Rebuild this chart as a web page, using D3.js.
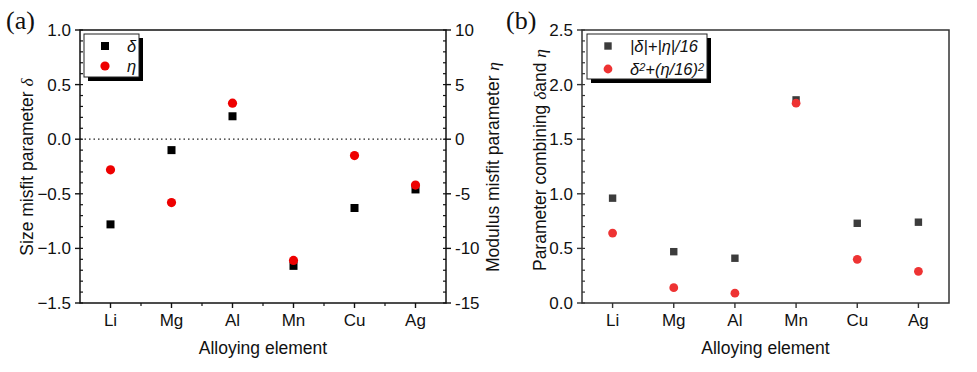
<!DOCTYPE html>
<html lang="en">
<head>
  <meta charset="UTF-8">
  <title>Misfit parameters</title>
  <script src="https://cdn.jsdelivr.net/npm/d3@7"></script>
  <style>
    body { margin: 0; background: #fff; }
    text { font-family: "Liberation Sans", Arial, sans-serif; fill: #111; }
  </style>
</head>
<body>
<div id="grafica"></div>
<script>
// datos
elements   = ['Li', 'Mg', 'Al', 'Mn', 'Cu', 'Ag']
delta      = [-0.78, -0.10, 0.21, -1.16, -0.63, -0.46]
eta        = [-2.8, -5.8, 3.3, -11.1, -1.5, -4.2]
combLinear = [0.96, 0.47, 0.41, 1.86, 0.73, 0.74]
combSquare = [0.64, 0.14, 0.09, 1.83, 0.40, 0.29]

leftTicksA  = [-1.5, -1.0, -0.5, 0.0, 0.5, 1.0]
rightTicksA = [-15, -10, -5, 0, 5, 10]
leftTicksB  = [0.0, 0.5, 1.0, 1.5, 2.0, 2.5]

serif = '"Liberation Serif", "Times New Roman", serif'
tickSize = 17
titleSize = 17.5

svg = d3.select('#grafica')
  .append('svg')
  .attr('width', 977)
  .attr('height', 372)

idx = elements.map((d, i) => i + 1)

function frame(g, x, y, color) {
  g.append('rect')
    .attr('x', x.range()[0])
    .attr('y', y.range()[1])
    .attr('width', x.range()[1] - x.range()[0])
    .attr('height', y.range()[0] - y.range()[1])
    .attr('fill', 'none')
    .attr('stroke', color)
    .attr('stroke-width', 1.5)
}

function yAxis(g, y, ticks, minorStep, side, fmt, color) {
  const x0 = side === 'left' ? g.x.range()[0] : g.x.range()[1]
  const dir = side === 'left' ? -1 : 1
  const ax = g.append('g')
  const lo = d3.min(ticks), hi = d3.max(ticks)
  const minor = d3.range(lo, hi + minorStep / 2, minorStep)
  ax.selectAll('line.minor')
    .data(minor)
    .enter().append('line')
      .attr('x1', x0).attr('x2', x0 - dir * 3)
      .attr('y1', d => y(d)).attr('y2', d => y(d))
      .attr('stroke', color).attr('stroke-width', 1.2)
  ax.selectAll('line.major')
    .data(ticks)
    .enter().append('line')
      .attr('x1', x0).attr('x2', x0 + dir * 5)
      .attr('y1', d => y(d)).attr('y2', d => y(d))
      .attr('stroke', color).attr('stroke-width', 1.4)
  ax.selectAll('text')
    .data(ticks)
    .enter().append('text')
      .attr('x', x0 + dir * 9)
      .attr('y', d => y(d) + 6)
      .attr('text-anchor', side === 'left' ? 'end' : 'start')
      .attr('font-size', tickSize)
      .text(fmt)
}

function xAxis(g, x, y, withMinor, color) {
  const y0 = y.range()[0]
  const ax = g.append('g')
  ax.selectAll('line.major')
    .data(idx)
    .enter().append('line')
      .attr('x1', d => x(d)).attr('x2', d => x(d))
      .attr('y1', y0).attr('y2', y0 + 5)
      .attr('stroke', color).attr('stroke-width', 1.4)
  if (withMinor) {
    ax.selectAll('line.minor')
      .data(d3.range(1.5, 6, 1))
      .enter().append('line')
        .attr('x1', d => x(d)).attr('x2', d => x(d))
        .attr('y1', y0).attr('y2', y0 + 3)
        .attr('stroke', color).attr('stroke-width', 1.2)
  }
  ax.selectAll('text')
    .data(elements)
    .enter().append('text')
      .attr('x', (d, i) => x(i + 1))
      .attr('y', y0 + 23)
      .attr('text-anchor', 'middle')
      .attr('font-size', tickSize)
      .text(d => d)
  g.append('text')
    .attr('x', (x.range()[0] + x.range()[1]) / 2)
    .attr('y', 354)
    .attr('text-anchor', 'middle')
    .attr('font-size', titleSize)
    .text('Alloying element')
}

function legend(g, x0, y0, w, h, step, items) {
  g.append('rect')
    .attr('x', x0 + 4).attr('y', y0 + 4)
    .attr('width', w).attr('height', h)
    .attr('fill', '#000')
  g.append('rect')
    .attr('x', x0).attr('y', y0)
    .attr('width', w).attr('height', h)
    .attr('fill', '#fff')
    .attr('stroke', '#222')
    .attr('stroke-width', 1)
  items.forEach((it, i) => {
    const cy = y0 + 12 + i * step
    if (it.shape === 'square') {
      g.append('rect')
        .attr('x', x0 + 21 - it.size / 2).attr('y', cy - it.size / 2)
        .attr('width', it.size).attr('height', it.size)
        .attr('fill', it.color)
    } else {
      g.append('circle')
        .attr('cx', x0 + 21).attr('cy', cy).attr('r', it.size)
        .attr('fill', it.color)
    }
    const t = g.append('text')
      .attr('x', x0 + it.tx).attr('y', cy + 6)
      .attr('font-size', 16.5)
      .attr('font-style', 'italic')
    it.parts.forEach(p => {
      t.append('tspan')
        .attr('baseline-shift', p.sup ? '40%' : null)
        .attr('font-size', p.sup ? 11 : null)
        .text(p.t)
    })
  })
}

// ---------- panel (a)
ga = svg.append('g')
ga.x = d3.scaleLinear().domain([0.5, 6.5]).range([80, 446])
yA = d3.scaleLinear().domain([-1.5, 1.0]).range([303, 30])
yEta = d3.scaleLinear().domain([-15, 10]).range([303, 30])

ga.append('line')
  .attr('x1', ga.x.range()[0]).attr('x2', ga.x.range()[1])
  .attr('y1', yA(0)).attr('y2', yA(0))
  .attr('stroke', '#222')
  .attr('stroke-width', 1.2)
  .attr('stroke-dasharray', '1.5,3')

yAxis(ga, yA, leftTicksA, 0.1, 'left', d => d3.format('.1f')(d), '#111')
yAxis(ga, yEta, rightTicksA, 1, 'right', d => d, '#111')
xAxis(ga, ga.x, yA, true, '#111')
frame(ga, ga.x, yA, '#111')

ga.selectAll('rect.delta')
  .data(delta)
  .enter().append('rect')
    .attr('class', 'delta')
    .attr('x', (d, i) => ga.x(i + 1) - 4)
    .attr('y', d => yA(d) - 4)
    .attr('width', 8).attr('height', 8)
    .attr('fill', '#000')

ga.selectAll('circle.eta')
  .data(eta)
  .enter().append('circle')
    .attr('class', 'eta')
    .attr('cx', (d, i) => ga.x(i + 1))
    .attr('cy', d => yEta(d))
    .attr('r', 4.6)
    .attr('fill', '#ee0000')

legend(ga, 84, 34, 55, 43, 20, [
  {shape: 'square', size: 8, color: '#000', tx: 43, parts: [{t: 'δ'}]},
  {shape: 'circle', size: 4.6, color: '#ee0000', tx: 43, parts: [{t: 'η'}]}
])

ga.append('text')
  .attr('transform', 'translate(33,167) rotate(-90)')
  .attr('text-anchor', 'middle')
  .attr('font-size', titleSize)
  .html('Size misfit parameter <tspan font-style="italic" font-family=\'' + serif + '\'>δ</tspan>')

ga.append('text')
  .attr('transform', 'translate(499,167) rotate(-90)')
  .attr('text-anchor', 'middle')
  .attr('font-size', titleSize)
  .html('Modulus misfit parameter <tspan font-style="italic" font-family=\'' + serif + '\'>η</tspan>')

ga.append('text')
  .attr('x', 6).attr('y', 29)
  .style('font-family', serif)
  .attr('font-size', 26)
  .text('(a)')

// ---------- panel (b)
gb = svg.append('g')
gb.x = d3.scaleLinear().domain([0.5, 6.5]).range([582, 949])
yB = d3.scaleLinear().domain([0, 2.5]).range([303, 30])

yAxis(gb, yB, leftTicksB, 0.1, 'left', d => d3.format('.1f')(d), '#333')
xAxis(gb, gb.x, yB, false, '#333')
frame(gb, gb.x, yB, '#333')

gb.selectAll('rect.lin')
  .data(combLinear)
  .enter().append('rect')
    .attr('class', 'lin')
    .attr('x', (d, i) => gb.x(i + 1) - 3.7)
    .attr('y', d => yB(d) - 3.7)
    .attr('width', 7.4).attr('height', 7.4)
    .attr('fill', '#3c3c3c')

gb.selectAll('circle.sq')
  .data(combSquare)
  .enter().append('circle')
    .attr('class', 'sq')
    .attr('cx', (d, i) => gb.x(i + 1))
    .attr('cy', d => yB(d))
    .attr('r', 4.4)
    .attr('fill', '#ee3333')

legend(gb, 587, 34, 120, 45, 23, [
  {shape: 'square', size: 7.4, color: '#3c3c3c', tx: 43, parts: [{t: '|δ|+|η|/16'}]},
  {shape: 'circle', size: 4.4, color: '#ee3333', tx: 43,
    parts: [{t: 'δ'}, {t: '2', sup: true}, {t: '+(η/16)'}, {t: '2', sup: true}]}
])

gb.append('text')
  .attr('transform', 'translate(546,160) rotate(-90)')
  .attr('text-anchor', 'middle')
  .attr('font-size', titleSize)
  .html('Parameter combining <tspan font-style="italic" font-family=\'' + serif + '\'>δ</tspan>and <tspan font-style="italic" font-family=\'' + serif + '\'>η</tspan>')

gb.append('text')
  .attr('x', 506).attr('y', 29)
  .style('font-family', serif)
  .attr('font-size', 26)
  .text('(b)')
</script>
</body>
</html>
